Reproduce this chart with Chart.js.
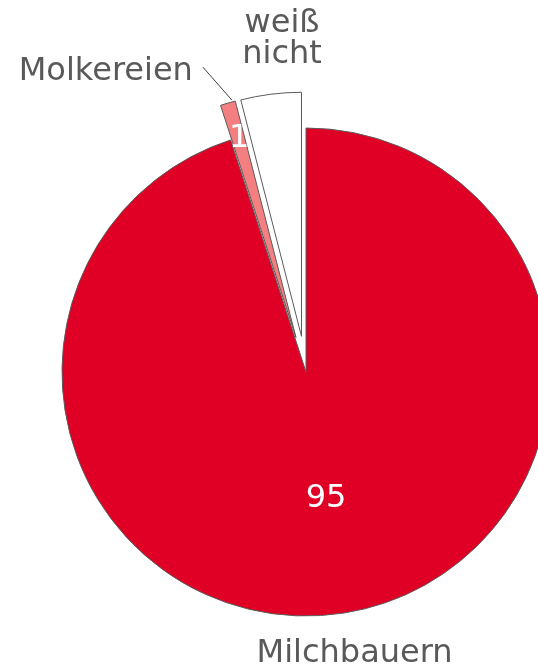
<!DOCTYPE html>
<html>
<head>
<meta charset="utf-8">
<script src="https://cdn.jsdelivr.net/npm/chart.js@4"></script>
<style>
  html, body { margin: 0; padding: 0; background: #fff; }
  #wrap { width: 538px; height: 669px; }
</style>
</head>
<body>
<div id="wrap"><canvas id="pie" width="538" height="669"></canvas></div>
<script>
const labels = ['Milchbauern', 'Molkereien', 'weiß nicht'];
const values = [95, 1, 4];
const sliceColors = ['#e00025', '#f47f80', '#ffffff'];
const explode = [0, 36, 36];

// shift pulled-out slices along their bisector without growing the radius
const explodePlugin = {
    id: 'explodeSlices',
    afterDatasetUpdate(chart, args) {
        const meta = chart.getDatasetMeta(args.index);
        meta.data.forEach((arc, i) => {
            const d = explode[i];
            if (!d || arc._wrapped) return;
            const orig = arc.draw.bind(arc);
            arc.draw = (ctx) => {
                const h = (arc.startAngle + arc.endAngle) / 2;
                ctx.save(); ctx.translate(Math.cos(h) * d, Math.sin(h) * d);
                orig(ctx); ctx.restore();
            };
            arc._wrapped = true;
        });
    }
};

const labelPlugin = {
    id: 'pieLabels',
    afterDraw(chart) {
        const { ctx } = chart;
        const arcs = chart.getDatasetMeta(0).data;
        const at = (arc, dist) => {
            const h = (arc.startAngle + arc.endAngle) / 2;
            return { x: arc.x + Math.cos(h) * dist, y: arc.y + Math.sin(h) * dist };
        };
        ctx.save();
        ctx.font = '32px "DejaVu Sans", Verdana, sans-serif';
        ctx.textBaseline = 'middle';
        ctx.textAlign = 'center';

        // values inside
        ctx.fillStyle = '#ffffff';
        let p = at(arcs[0], 128); ctx.fillText(String(values[0]), p.x, p.y);
        p = at(arcs[1], 243); ctx.fillText(String(values[1]), p.x + 1, p.y);

        // category names
        ctx.fillStyle = '#595959';
        p = at(arcs[0], 285); ctx.fillText(labels[0], p.x + 4, p.y);
        p = at(arcs[2], 335);
        ctx.fillText('weiß', p.x + 18, p.y - 16); ctx.fillText('nicht', p.x + 18, p.y + 15);

        const tip = at(arcs[1], arcs[1].outerRadius + explode[1]);
        ctx.strokeStyle = '#404040'; ctx.lineWidth = 1;
        ctx.beginPath(); ctx.moveTo(tip.x - 25, tip.y - 36); ctx.lineTo(tip.x + 4, tip.y - 3); ctx.stroke();
        ctx.textAlign = 'right';
        ctx.fillText(labels[1], tip.x - 35, tip.y - 31);
        ctx.restore();
    }
};

new Chart(document.getElementById('pie'), {
    type: 'pie',
    data: {
        labels: labels,
        datasets: [{
            data: values,
            backgroundColor: sliceColors,
            borderColor: '#5a5a5a',
            borderWidth: 1,
            clip: false
        }]
    },
    options: {
        responsive: false,
        animation: false,
        radius: 244,
        layout: { padding: { left: 74, top: 75, right: 0, bottom: 0 } },
        plugins: { legend: { display: false }, tooltip: { enabled: false } }
    },
    plugins: [explodePlugin, labelPlugin]
});
</script>
</body>
</html>
